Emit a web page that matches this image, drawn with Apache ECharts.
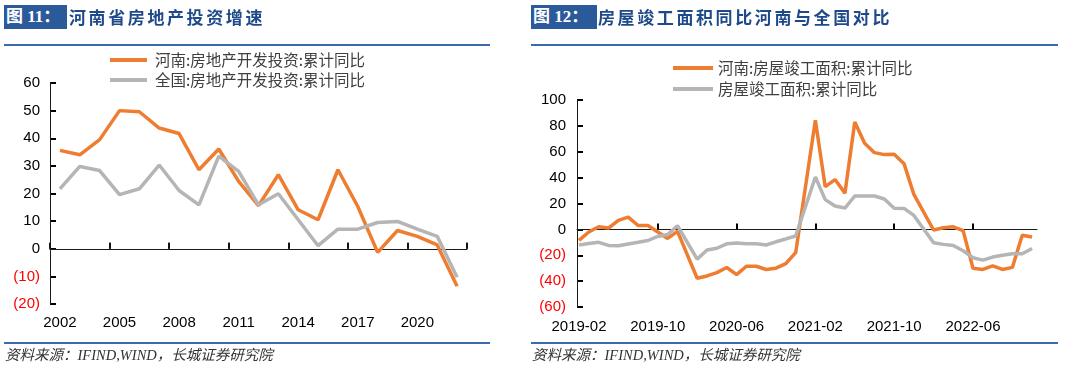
<!DOCTYPE html>
<html>
<head>
<meta charset="utf-8">
<script src="https://cdn.jsdelivr.net/npm/echarts@6/dist/echarts.min.js"></script>
<style>
html,body{margin:0;padding:0;background:#fff;width:1080px;height:378px;overflow:hidden;}
#chart{position:absolute;left:0;top:0;width:1080px;height:378px;}
.box{position:absolute;top:5px;height:24px;background:#2b5a9b;color:#fff;font-weight:bold;font-size:17px;font-family:"Liberation Serif","Noto Sans CJK SC",serif;line-height:24px;padding-left:2px;box-sizing:border-box;z-index:2;white-space:nowrap;}
.ttl{position:absolute;top:5px;color:#1f4a8a;font-weight:bold;font-size:17px;font-family:"Noto Sans CJK SC",sans-serif;letter-spacing:2.6px;line-height:24px;z-index:2;white-space:nowrap;}
.rule{position:absolute;height:2px;background:#3b6aae;z-index:2;}
.src{position:absolute;top:346px;font-style:italic;font-size:14.5px;font-family:"Liberation Serif","Noto Sans CJK SC",serif;color:#333;z-index:2;white-space:nowrap;line-height:18px;}
</style>
</head>
<body>
<div id="chart"></div>
<div class="box" style="left:4px;width:63px;">图 11：</div>
<div class="ttl" style="left:69px;">河南省房地产投资增速</div>
<div class="rule" style="left:4px;top:44px;width:486px;"></div>
<div class="rule" style="left:4px;top:342px;width:486px;"></div>
<div class="src" style="left:5px;">资料来源：IFIND,WIND，长城证券研究院</div>

<div class="box" style="left:531px;width:66px;">图 12：</div>
<div class="ttl" style="left:598px;">房屋竣工面积同比河南与全国对比</div>
<div class="rule" style="left:531px;top:44px;width:527px;"></div>
<div class="rule" style="left:531px;top:342px;width:527px;"></div>
<div class="src" style="left:532px;">资料来源：IFIND,WIND，长城证券研究院</div>

<script>
// ---------- Left chart data ----------
const years = ['2002','2003','2004','2005','2006','2007','2008','2009','2010','2011','2012',
               '2013','2014','2015','2016','2017','2018','2019','2020','2021','2022'];
const henanInvest  = [35.6,34,39.5,50,49.6,43.7,41.7,28.6,36.1,24.4,15.6,26.8,14.1,10.5,28.6,15.3,-1.3,6.6,4.5,1.4,-13.6];
const nationInvest = [21.7,29.8,28.3,19.6,21.7,30.3,21.1,15.9,33.5,28.0,15.9,19.9,10.5,1.1,7.1,7.1,9.5,9.9,7.1,4.5,-10.3];

// ---------- Right chart data ----------
const months = ['2019-02','2019-03','2019-04','2019-05','2019-06','2019-07','2019-08','2019-09','2019-10','2019-11','2019-12',
                '2020-01','2020-02','2020-03','2020-04','2020-05','2020-06','2020-07','2020-08','2020-09','2020-10','2020-11','2020-12',
                '2021-01','2021-02','2021-03','2021-04','2021-05','2021-06','2021-07','2021-08','2021-09','2021-10','2021-11','2021-12',
                '2022-01','2022-02','2022-03','2022-04','2022-05','2022-06','2022-07','2022-08','2022-09','2022-10','2022-11','2022-12'];
const henanCompl  = [-8.5,-2,2,1,7,9.5,3,3,-2,-7,-1.5,
                     null,-37.8,-36,-33.4,-29.5,-35,-28.5,-28.5,-31,-30,-26.5,-18,
                     null,84.4,33,38.5,28,83,66.5,59.3,57.8,58,50.8,27,
                     null,-0.5,1.3,2,-1,-30,-31,-28.2,-31,-29.4,-4.6,-5.9];
const nationCompl = [-12,-11,-10,-12.4,-12.7,-11.3,-10,-8.6,-5.5,-4,2.8,
                     null,-23,-16,-14.6,-11.2,-10.6,-11.1,-11.1,-12.1,-9.6,-7.4,-5.1,
                     null,40.5,23,18,16.5,25.8,25.8,25.8,23.5,16.3,16.2,10.8,
                     null,-10.3,-11.6,-12.5,-16.5,-21.9,-23.8,-21.4,-20,-18.8,-18.9,-14.8];
const monthTicks = ['2019-02','2019-10','2020-06','2021-02','2021-10','2022-06'];

// ---------- names ----------
const nameL1 = '河南:房地产开发投资:累计同比';
const nameL2 = '全国:房地产开发投资:累计同比';
const nameR1 = '河南:房屋竣工面积:累计同比';
const nameR2 = '房屋竣工面积:累计同比';

const ORANGE = '#EE7D31';
const GRAY = '#B5B5B5';
const AXIS = '#1a1a1a';
const TICK = 6;

// axis ranges / grid layout
const Y0 = {min: -20, max: 60, interval: 10};
const Y1 = {min: -60, max: 100, interval: 20};
const X1 = {min: -0.2, max: 46.5};
const G0 = {left: 50, top: 83, width: 417, height: 221};
const G1 = {left: 577, top: 100, width: 460, height: 207};
const zeroOffset = (g, y) => -g.height * (0 - y.min) / (y.max - y.min);
const zeroY = (g, y) => g.top + g.height * y.max / (y.max - y.min);

const tickIdx = monthTicks.map(m => months.indexOf(m));
const toPairs = arr => arr.map((v, i) => [i, v]);

// thin strips used only to draw the small tick marks (as split lines)
const pxPerMonth = G1.width / (X1.max - X1.min);
const stripX0 = {left: G0.left, width: G0.width, top: zeroY(G0, Y0) - TICK, height: TICK};
const stripX1 = {left: G1.left + (0 - X1.min) * pxPerMonth, width: (months.length - 1) * pxPerMonth,
                 top: zeroY(G1, Y1) - TICK, height: TICK};
const stripY0 = {left: G0.left, width: TICK, top: G0.top, height: G0.height};
const stripY1 = {left: G1.left, width: TICK, top: G1.top, height: G1.height};

const negColor = v => (Number(v) < 0 ? '#ff0000' : '#000000');
const negFmt = v => (Number(v) < 0 ? '(' + (-Number(v)) + ')' : String(v));
const labelFont = {fontFamily: 'Liberation Sans, Arial, sans-serif', fontSize: 15};

const legendTextL = {fontFamily: 'Noto Sans CJK SC, sans-serif', fontSize: 15.5, color: '#404040', lineHeight: 16, padding: [0, 0, 0, 3]};
const legendTextR = {fontFamily: 'Noto Sans CJK SC, sans-serif', fontSize: 15.5, color: '#404040', lineHeight: 16, padding: [0, 0, 0, 0]};

const gridBase = {outerBoundsMode: 'none', containLabel: false};
const hidden = gi => ({gridIndex: gi, type: 'value', show: false, min: 0, max: 1,
                       axisLine: {show: false}, axisTick: {show: false}, axisLabel: {show: false}, splitLine: {show: false}});
const tickSplit = {show: true, lineStyle: {color: '#000000', width: 2, type: 'solid', opacity: 1}};
const bare = {axisLine: {show: false, onZero: false}, axisTick: {show: false}, axisLabel: {show: false}};

const chart = echarts.init(document.getElementById('chart'), null, {renderer: 'canvas'});
const option = {
  animation: false,
  backgroundColor: 'transparent',
  grid: [
    Object.assign({}, gridBase, G0),
    Object.assign({}, gridBase, G1),
    Object.assign({}, gridBase, stripX0),
    Object.assign({}, gridBase, stripX1),
    Object.assign({}, gridBase, stripY0),
    Object.assign({}, gridBase, stripY1)
  ],
  legend: [
    {data: [nameL1, nameL2], orient: 'vertical', left: 105, top: 47, itemWidth: 37, itemHeight: 4,
     itemGap: 4, icon: 'rect', textStyle: legendTextL, selectedMode: false},
    {data: [nameR1, nameR2], orient: 'vertical', left: 668, top: 55, itemWidth: 40, itemHeight: 4,
     itemGap: 5, icon: 'rect', textStyle: legendTextR, selectedMode: false}
  ],
  xAxis: [
    // 0: left labels (bottom)
    {gridIndex: 0, type: 'category', data: years, boundaryGap: true, position: 'bottom',
     axisLine: {show: false, onZero: false}, axisTick: {show: false}, splitLine: {show: false},
     axisLabel: Object.assign({interval: 2, margin: 11, color: '#000'}, labelFont)},
    // 1: left zero line (with native ticks as well)
    {gridIndex: 0, type: 'category', data: years, boundaryGap: true, position: 'bottom',
     offset: zeroOffset(G0, Y0),
     axisLine: {show: true, onZero: false, lineStyle: {color: AXIS, width: 1}},
     axisTick: {show: true, inside: true, interval: 2, length: TICK, lineStyle: {color: AXIS, width: 1.5}},
     axisLabel: {show: false}, splitLine: {show: false}},
    // 2: right labels (bottom)
    Object.assign({gridIndex: 1, type: 'value', position: 'bottom',
     axisLine: {show: false, onZero: false}, axisTick: {show: false}, splitLine: {show: false},
     axisLabel: Object.assign({customValues: tickIdx, formatter: v => months[Math.round(v)], margin: 12, color: '#000'}, labelFont)}, X1),
    // 3: right zero line
    Object.assign({gridIndex: 1, type: 'value', position: 'bottom',
     offset: zeroOffset(G1, Y1),
     axisLine: {show: true, onZero: false, lineStyle: {color: AXIS, width: 1}},
     axisTick: {show: false}, axisLabel: {show: false}, splitLine: {show: false}}, X1),
    // 4: left x tick marks
    Object.assign({gridIndex: 2, type: 'category', data: years, boundaryGap: true,
     splitLine: Object.assign({interval: 2}, tickSplit)}, bare),
    // 5: right x tick marks
    Object.assign({gridIndex: 3, type: 'category', data: months, boundaryGap: false,
     splitLine: Object.assign({interval: (i) => i > 0 && tickIdx.indexOf(i) >= 0}, tickSplit)}, bare),
    hidden(4),
    hidden(5)
  ],
  yAxis: [
    Object.assign({gridIndex: 0, type: 'value',
     axisLine: {show: true, onZero: false, lineStyle: {color: AXIS, width: 1}},
     axisTick: {show: false}, splitLine: {show: false},
     axisLabel: Object.assign({formatter: negFmt, color: negColor, margin: 10}, labelFont)}, Y0),
    Object.assign({gridIndex: 1, type: 'value',
     axisLine: {show: true, onZero: false, lineStyle: {color: AXIS, width: 1}},
     axisTick: {show: false}, splitLine: {show: false},
     axisLabel: Object.assign({formatter: negFmt, color: negColor, margin: 11}, labelFont)}, Y1),
    hidden(2),
    hidden(3),
    Object.assign({gridIndex: 4, type: 'value', splitLine: tickSplit}, bare, Y0),
    Object.assign({gridIndex: 5, type: 'value', splitLine: tickSplit}, bare, Y1)
  ],
  series: [
    {name: nameL1, type: 'line', xAxisIndex: 0, yAxisIndex: 0, data: henanInvest,
     showSymbol: false, symbol: 'none', lineStyle: {color: ORANGE, width: 3.5}, itemStyle: {color: ORANGE}},
    {name: nameL2, type: 'line', xAxisIndex: 0, yAxisIndex: 0, data: nationInvest,
     showSymbol: false, symbol: 'none', lineStyle: {color: GRAY, width: 3.5}, itemStyle: {color: GRAY}},
    {name: nameR1, type: 'line', xAxisIndex: 2, yAxisIndex: 1, data: toPairs(henanCompl), connectNulls: true,
     showSymbol: false, symbol: 'none', lineStyle: {color: ORANGE, width: 3.5}, itemStyle: {color: ORANGE}},
    {name: nameR2, type: 'line', xAxisIndex: 2, yAxisIndex: 1, data: toPairs(nationCompl), connectNulls: true,
     showSymbol: false, symbol: 'none', lineStyle: {color: GRAY, width: 3.5}, itemStyle: {color: GRAY}}
  ]
};
chart.setOption(option);
</script>
</body>
</html>
